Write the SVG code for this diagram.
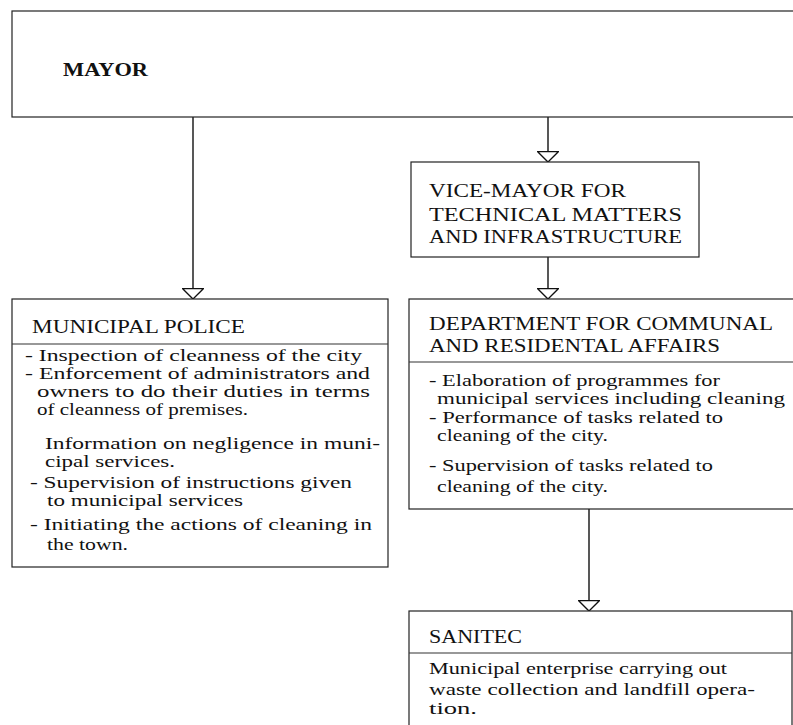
<svg xmlns="http://www.w3.org/2000/svg" width="793" height="725" viewBox="0 0 793 725">
<style>
  .box { fill: #ffffff; stroke: #222; stroke-width: 1.2; }
  .sep { stroke: #333; stroke-width: 1.1; }
  .conn { stroke: #111; stroke-width: 1.4; fill: none; marker-end: url(#tri); }
  text { font-family: "Liberation Serif", "Times New Roman", serif; fill: #111; }
  .hd { font-size: 19px; }
  .bd { font-size: 16px; }
  .big { font-size: 19px; font-weight: bold; }
</style>
<defs>
  <marker id="tri" viewBox="0 0 12 22" refX="11" refY="11" markerWidth="12" markerHeight="22" markerUnits="userSpaceOnUse" orient="auto">
    <polygon points="0.7,0.7 11,11 0.7,21.3" fill="#fff" stroke="#111" stroke-width="1.3"/>
  </marker>
</defs>
<rect width="793" height="725" fill="#fff"/>

<g id="connectors">
  <line class="conn" x1="193" y1="117" x2="193" y2="299"/>
  <line class="conn" x1="548" y1="117" x2="548" y2="162"/>
  <line class="conn" x1="548" y1="257" x2="548" y2="299"/>
  <line class="conn" x1="589" y1="509" x2="589" y2="611"/>
</g>

<g id="mayor">
  <rect class="box" x="12" y="11" width="800" height="106"/>
  <text class="big" x="63" y="76" textLength="85" lengthAdjust="spacingAndGlyphs">MAYOR</text>
</g>

<g id="vice-mayor">
  <rect class="box" x="411" y="162" width="288" height="95"/>
  <text class="hd" x="429" y="197" textLength="197" lengthAdjust="spacingAndGlyphs">VICE-MAYOR FOR</text>
  <text class="hd" x="429" y="221" textLength="253" lengthAdjust="spacingAndGlyphs">TECHNICAL MATTERS</text>
  <text class="hd" x="429" y="243" textLength="253" lengthAdjust="spacingAndGlyphs">AND INFRASTRUCTURE</text>
</g>

<g id="municipal-police">
  <rect class="box" x="12" y="299" width="376" height="268"/>
  <line class="sep" x1="12" y1="344" x2="388" y2="344"/>
  <text class="hd" x="32" y="333" textLength="213" lengthAdjust="spacingAndGlyphs">MUNICIPAL POLICE</text>
  <text class="bd" x="25" y="361" textLength="337" lengthAdjust="spacingAndGlyphs">- Inspection of cleanness of the city</text>
  <text class="bd" x="25" y="379" textLength="345" lengthAdjust="spacingAndGlyphs">- Enforcement of administrators and</text>
  <text class="bd" x="37" y="397" textLength="333" lengthAdjust="spacingAndGlyphs">owners to do their duties in terms</text>
  <text class="bd" x="37" y="415" textLength="211" lengthAdjust="spacingAndGlyphs">of cleanness of premises.</text>
  <text class="bd" x="45" y="449" textLength="335" lengthAdjust="spacingAndGlyphs">Information on negligence in muni-</text>
  <text class="bd" x="45" y="467" textLength="130" lengthAdjust="spacingAndGlyphs">cipal services.</text>
  <text class="bd" x="30" y="488" textLength="322" lengthAdjust="spacingAndGlyphs">- Supervision of instructions given</text>
  <text class="bd" x="47" y="506" textLength="196" lengthAdjust="spacingAndGlyphs">to municipal services</text>
  <text class="bd" x="30" y="530" textLength="342" lengthAdjust="spacingAndGlyphs">- Initiating the actions of cleaning in</text>
  <text class="bd" x="47" y="550" textLength="81" lengthAdjust="spacingAndGlyphs">the town.</text>
</g>

<g id="department">
  <rect class="box" x="409" y="299" width="400" height="210"/>
  <line class="sep" x1="409" y1="362" x2="793" y2="362"/>
  <text class="hd" x="429" y="330" textLength="344" lengthAdjust="spacingAndGlyphs">DEPARTMENT FOR COMMUNAL</text>
  <text class="hd" x="429" y="352" textLength="291" lengthAdjust="spacingAndGlyphs">AND RESIDENTAL AFFAIRS</text>
  <text class="bd" x="429" y="386" textLength="291" lengthAdjust="spacingAndGlyphs">- Elaboration of programmes for</text>
  <text class="bd" x="437" y="404" textLength="348" lengthAdjust="spacingAndGlyphs">municipal services including cleaning</text>
  <text class="bd" x="429" y="423" textLength="294" lengthAdjust="spacingAndGlyphs">- Performance of tasks related to</text>
  <text class="bd" x="437" y="441" textLength="171" lengthAdjust="spacingAndGlyphs">cleaning of the city.</text>
  <text class="bd" x="429" y="471" textLength="284" lengthAdjust="spacingAndGlyphs">- Supervision of tasks related to</text>
  <text class="bd" x="437" y="492" textLength="171" lengthAdjust="spacingAndGlyphs">cleaning of the city.</text>
</g>

<g id="sanitec">
  <rect class="box" x="409" y="611" width="383" height="130"/>
  <line class="sep" x1="409" y1="653" x2="792" y2="653"/>
  <text class="hd" x="429" y="643" textLength="93" lengthAdjust="spacingAndGlyphs">SANITEC</text>
  <text class="bd" x="429" y="674" textLength="298" lengthAdjust="spacingAndGlyphs">Municipal enterprise carrying out</text>
  <text class="bd" x="429" y="695" textLength="326" lengthAdjust="spacingAndGlyphs">waste collection and landfill opera-</text>
  <text class="bd" x="429" y="714" textLength="48" lengthAdjust="spacingAndGlyphs">tion.</text>
</g>
</svg>
